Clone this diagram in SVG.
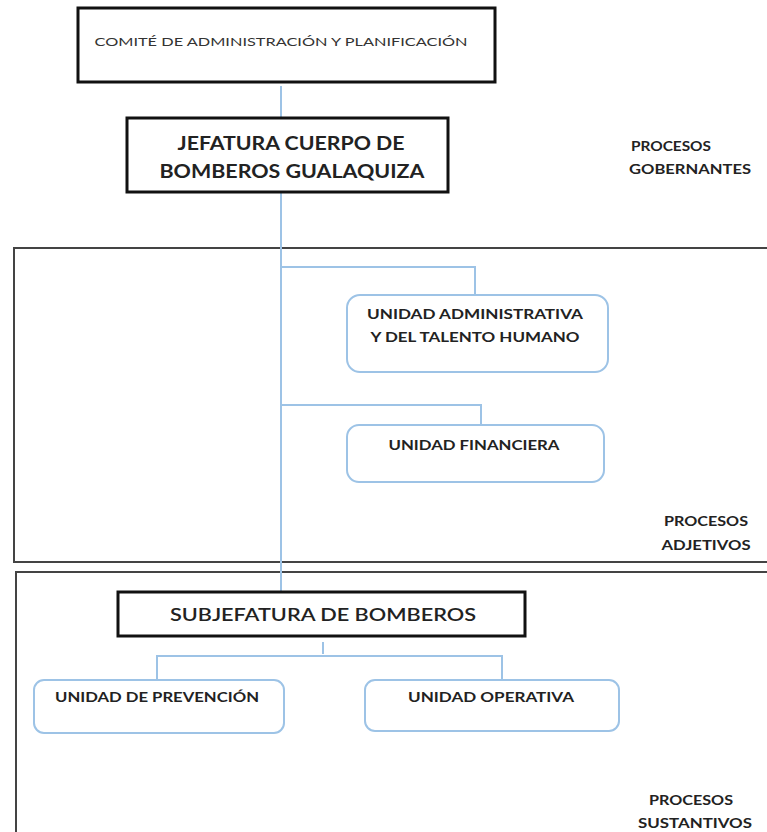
<svg xmlns="http://www.w3.org/2000/svg" width="767" height="832" viewBox="0 0 767 832">
<style>
.t{font-family:Lato,"Open Sans","Liberation Sans",sans-serif;font-weight:bold;fill:#222;text-anchor:middle}
.box{fill:#fff;stroke:#111;stroke-width:3}
.unit{fill:#fff;stroke:#9DC3E6;stroke-width:2}
.zone{fill:none;stroke:#444;stroke-width:2}
.conn{fill:none;stroke:#9DC3E6;stroke-width:2}
</style>
<rect width="767" height="832" fill="#fff"/>
<g id="zone-adjetivos"><rect class="zone" x="14" y="248" width="770" height="314"/>
<text class="t" font-size="12.5" x="706" y="526" textLength="84" lengthAdjust="spacingAndGlyphs">PROCESOS</text>
<text class="t" font-size="12.5" x="706" y="550" textLength="89" lengthAdjust="spacingAndGlyphs">ADJETIVOS</text></g>
<g id="zone-sustantivos"><rect class="zone" x="16" y="572" width="770" height="270"/>
<text class="t" font-size="12.5" x="691" y="805" textLength="84" lengthAdjust="spacingAndGlyphs">PROCESOS</text>
<text class="t" font-size="12.5" x="695" y="828" textLength="114" lengthAdjust="spacingAndGlyphs">SUSTANTIVOS</text></g>
<g id="connectors">
<line class="conn" x1="281" y1="86" x2="281" y2="118"/>
<line class="conn" x1="281" y1="192" x2="281" y2="592"/>
<polyline class="conn" points="281,267 475,267 475,295"/>
<polyline class="conn" points="281,405 481,405 481,425"/>
<line class="conn" x1="323" y1="642" x2="323" y2="654"/>
<polyline class="conn" points="157,680 157,656 502,656 502,680"/>
</g>
<g id="comite"><rect class="box" x="78" y="8" width="417" height="74"/>
<text class="t" font-size="12" style="font-weight:normal;fill:#333" x="281" y="46" textLength="373" lengthAdjust="spacingAndGlyphs">COMITÉ DE ADMINISTRACIÓN Y PLANIFICACIÓN</text></g>
<g id="jefatura"><rect class="box" x="127" y="118" width="321" height="74"/>
<text class="t" font-size="18" x="291" y="150" textLength="227" lengthAdjust="spacingAndGlyphs">JEFATURA CUERPO DE</text>
<text class="t" font-size="18" x="292" y="178" textLength="265" lengthAdjust="spacingAndGlyphs">BOMBEROS GUALAQUIZA</text></g>
<g id="gobernantes">
<text class="t" font-size="12.5" x="671" y="151" textLength="80" lengthAdjust="spacingAndGlyphs">PROCESOS</text>
<text class="t" font-size="12.5" x="690" y="174" textLength="122" lengthAdjust="spacingAndGlyphs">GOBERNANTES</text></g>
<g id="unidad-administrativa"><rect class="unit" x="347" y="295" width="261" height="77" rx="13"/>
<text class="t" font-size="12.5" x="475" y="319" textLength="216" lengthAdjust="spacingAndGlyphs">UNIDAD ADMINISTRATIVA</text>
<text class="t" font-size="12.5" x="475" y="342" textLength="209" lengthAdjust="spacingAndGlyphs">Y DEL TALENTO HUMANO</text></g>
<g id="unidad-financiera"><rect class="unit" x="347" y="425" width="257" height="57" rx="12"/>
<text class="t" font-size="12.5" x="474" y="450" textLength="171" lengthAdjust="spacingAndGlyphs">UNIDAD FINANCIERA</text></g>
<g id="subjefatura"><rect class="box" x="118" y="592" width="407" height="44"/>
<text class="t" font-size="18" style="font-weight:600" x="323" y="621" textLength="306" lengthAdjust="spacingAndGlyphs">SUBJEFATURA DE BOMBEROS</text></g>
<g id="unidad-prevencion"><rect class="unit" x="34" y="680" width="250" height="53" rx="10"/>
<text class="t" font-size="12.5" x="157" y="702" textLength="204" lengthAdjust="spacingAndGlyphs">UNIDAD DE PREVENCIÓN</text></g>
<g id="unidad-operativa"><rect class="unit" x="365" y="680" width="254" height="51" rx="10"/>
<text class="t" font-size="12.5" x="491" y="702" textLength="166" lengthAdjust="spacingAndGlyphs">UNIDAD OPERATIVA</text></g>
</svg>
